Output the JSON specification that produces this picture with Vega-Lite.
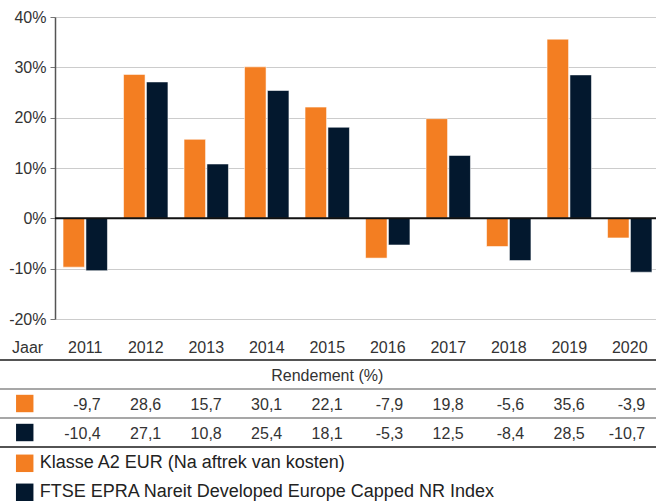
{
  "$schema": "https://vega.github.io/schema/vega-lite/v6.json",
  "autosize": {"type": "none"},
  "padding": {"left": 55, "top": 17, "right": 0, "bottom": 182},
  "width": 605,
  "height": 302,
  "config": {
    "view": {"stroke": null},
    "font": "Liberation Sans",
    "locale": {"number": {"decimal": ",", "thousands": ".", "grouping": [3], "currency": ["€ ", ""], "minus": "-"}}
  },
  "datasets": {
    "rows": [
      {"Jaar": "2011", "Serie": "Klasse A2 EUR (Na aftrek van kosten)", "Rendement": -9.7},
      {"Jaar": "2012", "Serie": "Klasse A2 EUR (Na aftrek van kosten)", "Rendement": 28.6},
      {"Jaar": "2013", "Serie": "Klasse A2 EUR (Na aftrek van kosten)", "Rendement": 15.7},
      {"Jaar": "2014", "Serie": "Klasse A2 EUR (Na aftrek van kosten)", "Rendement": 30.1},
      {"Jaar": "2015", "Serie": "Klasse A2 EUR (Na aftrek van kosten)", "Rendement": 22.1},
      {"Jaar": "2016", "Serie": "Klasse A2 EUR (Na aftrek van kosten)", "Rendement": -7.9},
      {"Jaar": "2017", "Serie": "Klasse A2 EUR (Na aftrek van kosten)", "Rendement": 19.8},
      {"Jaar": "2018", "Serie": "Klasse A2 EUR (Na aftrek van kosten)", "Rendement": -5.6},
      {"Jaar": "2019", "Serie": "Klasse A2 EUR (Na aftrek van kosten)", "Rendement": 35.6},
      {"Jaar": "2020", "Serie": "Klasse A2 EUR (Na aftrek van kosten)", "Rendement": -3.9},
      {"Jaar": "2011", "Serie": "FTSE EPRA Nareit Developed Europe Capped NR Index", "Rendement": -10.4},
      {"Jaar": "2012", "Serie": "FTSE EPRA Nareit Developed Europe Capped NR Index", "Rendement": 27.1},
      {"Jaar": "2013", "Serie": "FTSE EPRA Nareit Developed Europe Capped NR Index", "Rendement": 10.8},
      {"Jaar": "2014", "Serie": "FTSE EPRA Nareit Developed Europe Capped NR Index", "Rendement": 25.4},
      {"Jaar": "2015", "Serie": "FTSE EPRA Nareit Developed Europe Capped NR Index", "Rendement": 18.1},
      {"Jaar": "2016", "Serie": "FTSE EPRA Nareit Developed Europe Capped NR Index", "Rendement": -5.3},
      {"Jaar": "2017", "Serie": "FTSE EPRA Nareit Developed Europe Capped NR Index", "Rendement": 12.5},
      {"Jaar": "2018", "Serie": "FTSE EPRA Nareit Developed Europe Capped NR Index", "Rendement": -8.4},
      {"Jaar": "2019", "Serie": "FTSE EPRA Nareit Developed Europe Capped NR Index", "Rendement": 28.5},
      {"Jaar": "2020", "Serie": "FTSE EPRA Nareit Developed Europe Capped NR Index", "Rendement": -10.7}
    ],
    "series": [
      {"Serie": "Klasse A2 EUR (Na aftrek van kosten)"},
      {"Serie": "FTSE EPRA Nareit Developed Europe Capped NR Index"}
    ],
    "header": [
      {"Serie": "Rendement (%)", "Kop": "Rendement (%)", "Jaar": "2015"}
    ],
    "last": [
      {"Serie": "FTSE EPRA Nareit Developed Europe Capped NR Index"}
    ]
  },
  "resolve": {"scale": {"x": "independent", "y": "independent"}},
  "layer": [
    {
      "layer": [
        {
          "data": {"name": "rows"},
          "mark": {"type": "bar", "stroke": "#ffffff", "strokeOpacity": 0.55, "strokeWidth": 1},
          "encoding": {
            "x": {
              "field": "Jaar", "type": "ordinal",
              "scale": {"paddingInner": 0.266, "paddingOuter": 0.133},
              "axis": {
                "title": "Jaar", "titleX": -12.3, "titleY": 33.7, "titleAlign": "right", "titleBaseline": "alphabetic",
                "titleAngle": 0, "titleFontWeight": "normal", "titleFontSize": 16, "titleColor": "#333333",
                "labelFontSize": 16, "labelColor": "#333333", "labelAngle": 0, "labelPadding": 20,
                "ticks": false, "domain": false, "grid": false
              }
            },
            "xOffset": {
              "field": "Serie", "type": "nominal",
              "scale": {"domain": ["Klasse A2 EUR (Na aftrek van kosten)", "FTSE EPRA Nareit Developed Europe Capped NR Index"], "paddingInner": 0.06}
            },
            "y": {
              "field": "Rendement", "type": "quantitative",
              "scale": {"domain": [-20, 40], "nice": false},
              "axis": {
                "title": null, "values": [-20, -10, 0, 10, 20, 30, 40], "labelExpr": "datum.value + '%'",
                "labelFontSize": 16, "labelColor": "#333333", "labelPadding": 4,
                "tickSize": 5, "tickColor": "#777777", "domainColor": "#555555", "domainWidth": 1.5,
                "gridColor": "#cccccc", "gridWidth": 1.2
              }
            },
            "color": {
              "field": "Serie", "type": "nominal",
              "scale": {"domain": ["Klasse A2 EUR (Na aftrek van kosten)", "FTSE EPRA Nareit Developed Europe Capped NR Index"], "range": ["#f37e22", "#03182e"]},
              "legend": {
                "title": null, "orient": "none", "legendX": -39.3, "legendY": 437.3, "padding": 0,
                "direction": "vertical", "symbolType": "square", "symbolSize": 306, "symbolStrokeWidth": 0, "symbolOpacity": 1,
                "labelFontSize": 18, "labelColor": "#222222", "labelOffset": 6, "labelLimit": 700, "rowPadding": 11
              }
            }
          }
        },
        {
          "data": {"values": [{"nul": 0}]},
          "mark": {"type": "rule", "color": "#111111", "strokeWidth": 2},
          "encoding": {"y": {"field": "nul", "type": "quantitative"}}
        }
      ]
    },
    {
      "layer": [
        {
          "data": {"name": "series"},
          "mark": {"type": "rule", "color": "#8a8a8a", "strokeWidth": 1.6},
          "encoding": {
            "x": {"datum": "", "type": "ordinal", "bandPosition": 0.09,
              "scale": {"domain": ["", "2011", "2012", "2013", "2014", "2015", "2016", "2017", "2018", "2019", "2020"], "range": [-60.5, 605], "paddingInner": 0, "paddingOuter": 0},
              "axis": null},
            "x2": {"datum": "2020", "bandPosition": 1},
            "y": {"field": "Serie", "type": "nominal", "bandPosition": 0,
              "scale": {"domain": ["Rendement (%)", "Klasse A2 EUR (Na aftrek van kosten)", "FTSE EPRA Nareit Developed Europe Capped NR Index"], "range": [343, 430], "paddingInner": 0, "paddingOuter": 0},
              "axis": null}
          }
        },
        {
          "data": {"name": "header"},
          "mark": {"type": "rule", "color": "#1a1a1a", "strokeWidth": 1.5},
          "encoding": {
            "x": {"datum": "", "type": "ordinal", "bandPosition": 0.09},
            "x2": {"datum": "2020", "bandPosition": 1},
            "y": {"field": "Serie", "type": "nominal", "bandPosition": 0}
          }
        },
        {
          "data": {"name": "last"},
          "mark": {"type": "rule", "color": "#1a1a1a", "strokeWidth": 1.5},
          "encoding": {
            "x": {"datum": "", "type": "ordinal", "bandPosition": 0.09},
            "x2": {"datum": "2020", "bandPosition": 1},
            "y": {"field": "Serie", "type": "nominal", "bandPosition": 1}
          }
        },
        {
          "data": {"name": "header"},
          "mark": {"type": "text", "fontSize": 16, "color": "#333333", "baseline": "middle", "align": "center", "dy": 1},
          "encoding": {
            "x": {"field": "Jaar", "type": "ordinal"},
            "y": {"field": "Serie", "type": "nominal"},
            "text": {"field": "Kop", "type": "nominal"}
          }
        },
        {
          "data": {"name": "rows"},
          "mark": {"type": "text", "fontSize": 16, "color": "#333333", "baseline": "middle", "align": "right", "dx": 15.5, "dy": 1.5},
          "encoding": {
            "x": {"field": "Jaar", "type": "ordinal"},
            "y": {"field": "Serie", "type": "nominal"},
            "text": {"field": "Rendement", "type": "quantitative", "format": ".1f"}
          }
        },
        {
          "data": {"name": "series"},
          "mark": {"type": "point", "shape": "square", "filled": true, "size": 303, "opacity": 1, "strokeWidth": 0},
          "encoding": {
            "x": {"datum": "", "type": "ordinal"},
            "y": {"field": "Serie", "type": "nominal"},
            "color": {"field": "Serie", "type": "nominal"}
          }
        }
      ]
    }
  ]
}
